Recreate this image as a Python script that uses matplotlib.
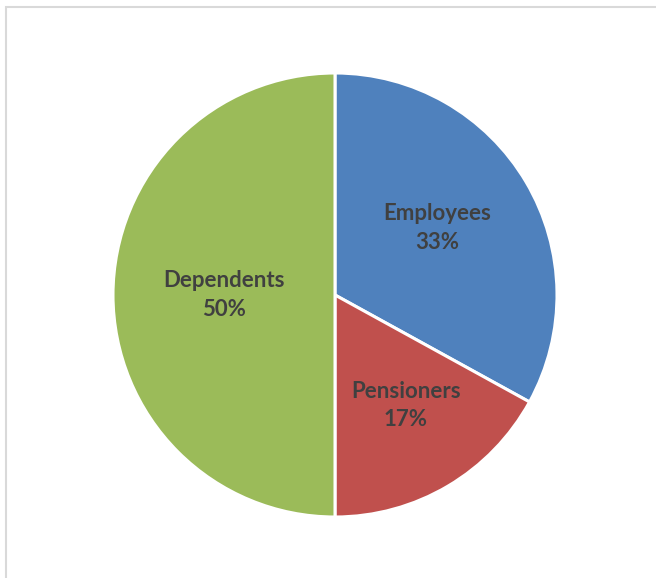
import matplotlib
matplotlib.use("Agg")
import matplotlib.pyplot as plt
import numpy as np

categories = ["Employees", "Pensioners", "Dependents"]
shares = [33, 17, 50]
colors = ["#4F81BD", "#C0504D", "#9BBB59"]
label_radius = [0.55, 0.59, 0.50]
label_shift_deg = [2.5, 2.0, 0.0]

W, H = 656, 578
fig = plt.figure(figsize=(W / 100, H / 100), dpi=100)
fig.patch.set_facecolor("white")

# chart area border (partly cut off at right/bottom)
fig.patches.append(plt.Rectangle((5.5 / W, -0.1), 1.2, (H - 6.5) / H + 0.1,
                                 transform=fig.transFigure, fill=False,
                                 edgecolor="#D9D9D9", linewidth=1.5))

cx, cy, r = 335, 295, 222
ax = fig.add_axes([(cx - r) / W, (H - cy - r) / H, 2 * r / W, 2 * r / H])
wedges, _ = ax.pie(shares, colors=colors, startangle=90, counterclock=False,
                   wedgeprops=dict(edgecolor="white", linewidth=2.2))
ax.set_xlim(-1, 1)
ax.set_ylim(-1, 1)
ax.set_aspect("equal")
ax.axis("off")

for w, name, val, rr, sh in zip(wedges, categories, shares, label_radius, label_shift_deg):
    ang = np.deg2rad((w.theta1 + w.theta2) / 2 + sh)
    ax.text(rr * np.cos(ang), rr * np.sin(ang), f"{name}\n{val}%",
            ha="center", va="center", fontsize=16, fontweight="bold",
            color="#404040", family=["Lato", "DejaVu Sans"], linespacing=1.45)

fig.savefig("out.png", dpi=100)
